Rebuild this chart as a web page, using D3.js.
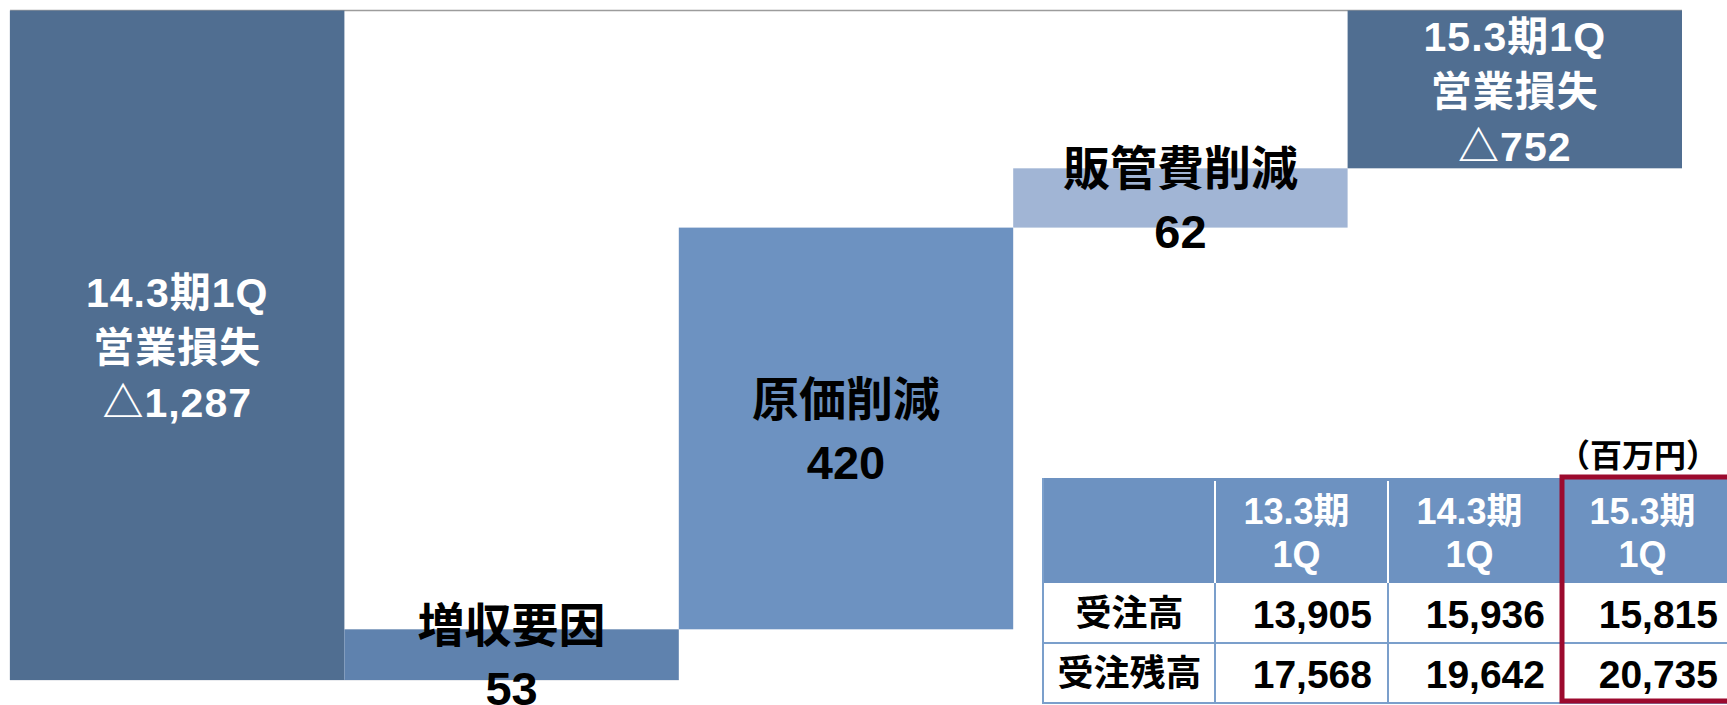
<!DOCTYPE html>
<html>
<head>
<meta charset="utf-8">
<script src="https://cdn.jsdelivr.net/npm/d3@7"></script>
<style>
  body { margin: 0; background: #fff; }
  svg { display: block; font-family: "Liberation Sans", Arial, "Noto Sans CJK JP", sans-serif; }
</style>
</head>
<body>
<div id="chart"></div>
<script>
// waterfall steps (百万円)
const steps = ['start', 'sales', 'cost', 'sga', 'end'];
const stepValues = [-1287, 53, 420, 62, -752];
const stepIsTotal = [true, false, false, false, true];
const stepNames = ['14.3期1Q\n営業損失', '増収要因', '原価削減', '販管費削減', '15.3期1Q\n営業損失'];

// table
const periods = ['13.3期\n1Q', '14.3期\n1Q', '15.3期\n1Q'];
const rowLabels = ['受注高', '受注残高'];
const orders = [13905, 15936, 15815];
const backlog = [17568, 19642, 20735];
const unitLabel = '（百万円）';

const width = 1727;
const height = 705;

const plot = { left: 10, right: 1682, top: 10.5, bottom: 680 };
const cutoff = -587; // value at the top edge of the plot, the rest is cut off

const colors = ['#506e91', '#5f82ae', '#6d92c1', '#a1b5d5', '#506e91'];

const fmt = d3.format(',');

// running totals for the waterfall
let running = 0;
const bars = steps.map((s, i) => {
  let from, to;
  if (stepIsTotal[i]) {
    from = 0;
    to = stepValues[i];
    running = stepValues[i];
  } else {
    from = running;
    to = running + stepValues[i];
    running = to;
  }
  return { key: s, i, from, to, value: stepValues[i] };
});

const svg = d3.select('#chart')
  .append('svg')
  .attr('width', width)
  .attr('height', height);

const x = d3.scaleBand()
  .domain(steps)
  .range([plot.left, plot.right])
  .padding(0);

const y = d3.scaleLinear()
  .domain([d3.min(bars, d => Math.min(d.from, d.to)), cutoff])
  .range([plot.bottom, plot.top])
  .clamp(true);

// frame
svg.append('line')
  .attr('x1', plot.left).attr('x2', plot.right)
  .attr('y1', plot.top).attr('y2', plot.top)
  .attr('stroke', '#9c9c9c')
  .attr('stroke-width', 1.5);

svg.append('path')
  .attr('d', `M${plot.left},${plot.top}V${plot.bottom}H${x('sales') + x.bandwidth()}`)
  .attr('fill', 'none')
  .attr('stroke', '#d3d8e0')
  .attr('stroke-width', 1);

svg.append('g')
  .selectAll('rect')
  .data(bars)
  .join('rect')
  .attr('x', d => x(d.key))
  .attr('width', x.bandwidth())
  .attr('y', d => y(Math.max(d.from, d.to)))
  .attr('height', d => y(Math.min(d.from, d.to)) - y(Math.max(d.from, d.to)))
  .attr('fill', (d, i) => colors[i]);

// labels, centred inside the visible part of each bar
const labels = svg.append('g')
  .attr('text-anchor', 'middle')
  .selectAll('text')
  .data(bars)
  .join('text')
  .attr('font-weight', 'bold')
  .attr('font-size', d => stepIsTotal[d.i] ? 41 : 47)
  .attr('fill', d => stepIsTotal[d.i] ? '#fff' : '#000');

labels.each(function (d) {
  const fs = stepIsTotal[d.i] ? 41 : 47;
  const lh = fs * 1.34;
  const valueText = d.value < 0 ? '△' + fmt(-d.value) : fmt(d.value);
  const lines = stepNames[d.i].split('\n').concat([valueText]);
  const cx = x(d.key) + x.bandwidth() / 2;
  const cy = (y(d.from) + y(d.to)) / 2 + 2;
  d3.select(this)
    .selectAll('tspan')
    .data(lines)
    .join('tspan')
    .attr('x', cx)
    .attr('y', (t, j) => cy + (j - (lines.length - 1) / 2) * lh)
    .attr('dy', '0.36em')
    .attr('letter-spacing', stepIsTotal[d.i] ? 1 : 0)
    .text(t => t);
});

// table
const tbl = { left: 1042, top: 478, head: 105, row: 60 };
const cols = d3.scaleBand()
  .domain(d3.range(periods.length + 1))
  .range([tbl.left, tbl.left + 173 * 4]);
const rowY = i => tbl.top + tbl.head + i * tbl.row;
const tableBottom = rowY(rowLabels.length);
const tableRight = cols.range()[1];

const table = svg.append('g');

table.append('rect')
  .attr('x', tbl.left).attr('y', tbl.top)
  .attr('width', tableRight - tbl.left).attr('height', tbl.head)
  .attr('fill', '#6d92c1');

// white dividers inside the header
table.append('g')
  .selectAll('line')
  .data(d3.range(1, periods.length + 1))
  .join('line')
  .attr('x1', d => cols(d)).attr('x2', d => cols(d))
  .attr('y1', tbl.top + 3).attr('y2', tbl.top + tbl.head)
  .attr('stroke', '#fff')
  .attr('stroke-width', 2);

// body grid
const grid = table.append('g')
  .attr('stroke', '#7b9fcb')
  .attr('stroke-width', 2);

grid.selectAll('.h')
  .data(d3.range(1, rowLabels.length + 1))
  .join('line')
  .attr('class', 'h')
  .attr('x1', tbl.left).attr('x2', tableRight)
  .attr('y1', d => rowY(d)).attr('y2', d => rowY(d));

grid.selectAll('.v')
  .data(d3.range(0, periods.length + 1))
  .join('line')
  .attr('class', 'v')
  .attr('x1', d => cols(d) + (d === 0 ? 1 : 0)).attr('x2', d => cols(d) + (d === 0 ? 1 : 0))
  .attr('y1', d => d === 0 ? tbl.top : rowY(0)).attr('y2', tableBottom);

// header texts
table.append('g')
  .attr('text-anchor', 'middle')
  .attr('fill', '#fff')
  .attr('font-size', 36)
  .attr('font-weight', 'bold')
  .selectAll('text')
  .data(periods)
  .join('text')
  .each(function (p, i) {
    const lines = p.split('\n');
    const cx = cols(i + 1) + cols.bandwidth() / 2 - 5;
    const cy = tbl.top + tbl.head / 2 + 2;
    d3.select(this).selectAll('tspan')
      .data(lines)
      .join('tspan')
      .attr('x', cx)
      .attr('y', (t, j) => cy + (j - (lines.length - 1) / 2) * 43)
      .attr('dy', '0.36em')
      .text(t => t);
  });

// row labels
table.append('g')
  .attr('text-anchor', 'middle')
  .attr('font-size', 36)
  .attr('font-weight', 'bold')
  .selectAll('text')
  .data(rowLabels)
  .join('text')
  .attr('x', cols(0) + cols.bandwidth() / 2 + 1)
  .attr('y', (d, i) => rowY(i) + tbl.row / 2)
  .attr('dy', '0.36em')
  .text(d => d);

// values
const rows = [orders, backlog];
table.append('g')
  .attr('text-anchor', 'end')
  .attr('font-size', 39)
  .attr('font-weight', 'bold')
  .selectAll('g')
  .data(rows)
  .join('g')
  .selectAll('text')
  .data((r, i) => r.map((v, j) => ({ v, j, i })))
  .join('text')
  .attr('x', d => cols(d.j + 1) + cols.bandwidth() - 16)
  .attr('y', d => rowY(d.i) + tbl.row / 2 + 1)
  .attr('dy', '0.36em')
  .text(d => fmt(d.v));

// red frame on the latest period
table.append('rect')
  .attr('x', cols(periods.length) + 1)
  .attr('y', tbl.top - 1)
  .attr('width', cols.bandwidth() + 20)
  .attr('height', tableBottom - tbl.top - 1)
  .attr('fill', 'none')
  .attr('stroke', '#9c0a2e')
  .attr('stroke-width', 5);

table.append('text')
  .attr('x', 1638)
  .attr('y', 455)
  .attr('dy', '0.36em')
  .attr('text-anchor', 'middle')
  .attr('font-family', '"Noto Sans CJK JP", sans-serif')
  .attr('font-size', 32)
  .attr('font-weight', 'bold')
  .text(unitLabel);
</script>
</body>
</html>
